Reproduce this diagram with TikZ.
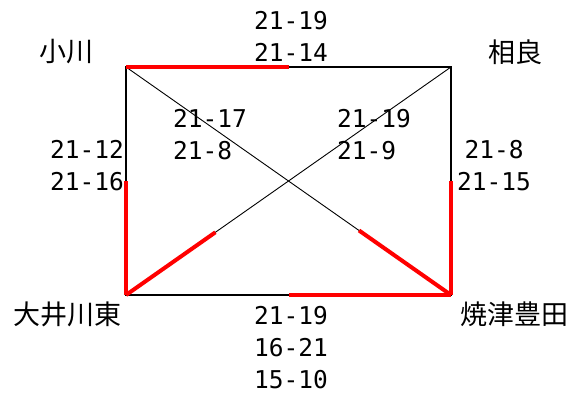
\documentclass[tikz,border=0pt]{standalone}
\usepackage{fontspec}
\newfontfamily\jp{Noto Sans CJK JP}
\newfontfamily\num{DejaVu Sans Mono}
\usetikzlibrary{calc}
\begin{document}
\begin{tikzpicture}[x=1pt,y=-1pt,
  frame/.style={draw=black,line width=2pt},
  thin/.style={draw=black,line width=0.9pt},
  redseg/.style={draw=red,line width=4pt},
  station/.style={font=\jp\fontsize{27}{30}\selectfont,inner sep=0pt},
  score/.style={font=\num\fontsize{24.5}{32}\selectfont,inner sep=0pt,align=center}]
\useasboundingbox (0,0) rectangle (573,394);
\coordinate (TL) at (126,67);
\coordinate (TR) at (451,67);
\coordinate (BL) at (126,295);
\coordinate (BR) at (451,295);
% frame and diagonals
\draw[frame] (TL) -- (TR) -- (BR) -- (BL) -- cycle;
\draw[thin] (TL) -- (BR);
\draw[thin] (BL) -- (TR);
% red segments
\draw[redseg] (TL) -- ($(TL)!0.5!(TR)$);
\draw[redseg] (BL) -- ($(BL)!0.5!(TL)$);
\draw[redseg] (BR) -- ($(BR)!0.5!(TR)$);
\draw[redseg] (BR) -- ($(BR)!0.5!(BL)$);
\draw[redseg] (BL) -- ($(BL)!0.275!(TR)$);
\draw[redseg] (BR) -- ($(BR)!0.283!(TL)$);
% stations
\node[station] (ogawa) at (66,52) {小川};
\node[station] (sagara) at (515,52) {相良};
\node[station] (oigawa) at (67,314) {大井川東};
\node[station] (yaizu) at (514,314) {焼津豊田};
% scores
\node[score] (top) at (291,36) {21-19\\21-14};
\node[score,anchor=east,align=right] (left) at (124,166) {21-12\\21-16};
\node[score] (right) at (494,166) {21-8\\21-15};
\node[score,anchor=west,align=left] (dl) at (173,135) {21-17\\21-8};
\node[score,anchor=west,align=left] (dr) at (337,135) {21-19\\21-9};
\node[score] (bottom) at (291,348) {21-19\\16-21\\15-10};
\end{tikzpicture}
\end{document}
